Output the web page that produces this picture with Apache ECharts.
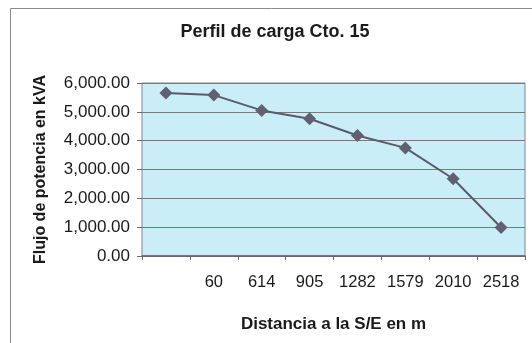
<!DOCTYPE html>
<html>
<head>
<meta charset="utf-8">
<script src="https://cdn.jsdelivr.net/npm/echarts@6/dist/echarts.min.js"></script>
<style>html,body{margin:0;padding:0;background:#fff}#c{width:532px;height:343px}</style>
</head>
<body>
<div id="c"></div>
<script>
var categories = ['', '60', '614', '905', '1282', '1579', '2010', '2518'];
var values = [5650, 5580, 5050, 4760, 4180, 3750, 2680, 990];
var yTicks = [0, 1000, 2000, 3000, 4000, 5000, 6000];

var chart = echarts.init(document.getElementById('c'));
var fnt = '"Liberation Sans", Arial, sans-serif';
chart.setOption({
  backgroundColor: '#ffffff',
  animation: false,
  graphic: [{
    type: 'rect', left: 8, top: 6, silent: true,
    shape: { width: 540, height: 360 },
    style: { fill: 'none', stroke: '#8a8a8a', lineWidth: 1 }
  }],
  title: {
    text: 'Perfil de carga Cto. 15', left: 270, top: 18, textAlign: 'center',
    textStyle: { fontFamily: fnt, fontSize: 18, fontWeight: 'bold', color: '#1a1a1a' }
  },
  grid: { left: 142, right: 7, top: 83, bottom: 87, show: true, backgroundColor: '#c9eef8', borderColor: '#8a8090', borderWidth: 1 },
  xAxis: {
    type: 'category', data: categories, boundaryGap: true,
    name: 'Distancia a la S/E en m', nameLocation: 'middle', nameGap: 60,
    nameTextStyle: { fontFamily: fnt, fontSize: 17, fontWeight: 'bold', color: '#1a1a1a' },
    axisLine: { lineStyle: { color: '#6a6070', width: 1.5 } },
    axisTick: { show: true, length: 4, interval: 0, lineStyle: { color: '#6a6a6a' } },
    axisLabel: { fontFamily: fnt, fontSize: 16.5, color: '#1a1a1a', margin: 18, interval: 0, hideOverlap: false }
  },
  yAxis: {
    type: 'value', min: 0, max: 6000, interval: 1000,
    name: 'Flujo de potencia en kVA', nameLocation: 'middle', nameGap: 93,
    nameTextStyle: { fontFamily: fnt, fontSize: 16, fontWeight: 'bold', color: '#1a1a1a' },
    axisLine: { show: false },
    axisTick: { show: true, length: 5, lineStyle: { color: '#6a6a6a' } },
    splitLine: { lineStyle: { color: '#7a7a7a', width: 1.2 } },
    axisLabel: {
      fontFamily: fnt, fontSize: 17, color: '#1a1a1a', margin: 12,
      formatter: function (v) {
        return yTicks.indexOf(v) >= 0 ? v.toLocaleString('en-US', { minimumFractionDigits: 2, maximumFractionDigits: 2 }) : '';
      }
    }
  },
  series: [{
    type: 'line', data: values,
    symbol: 'diamond', symbolSize: 13,
    lineStyle: { color: '#5c5a6a', width: 2 },
    itemStyle: { color: '#625f72' }
  }]
});
</script>
</body>
</html>
